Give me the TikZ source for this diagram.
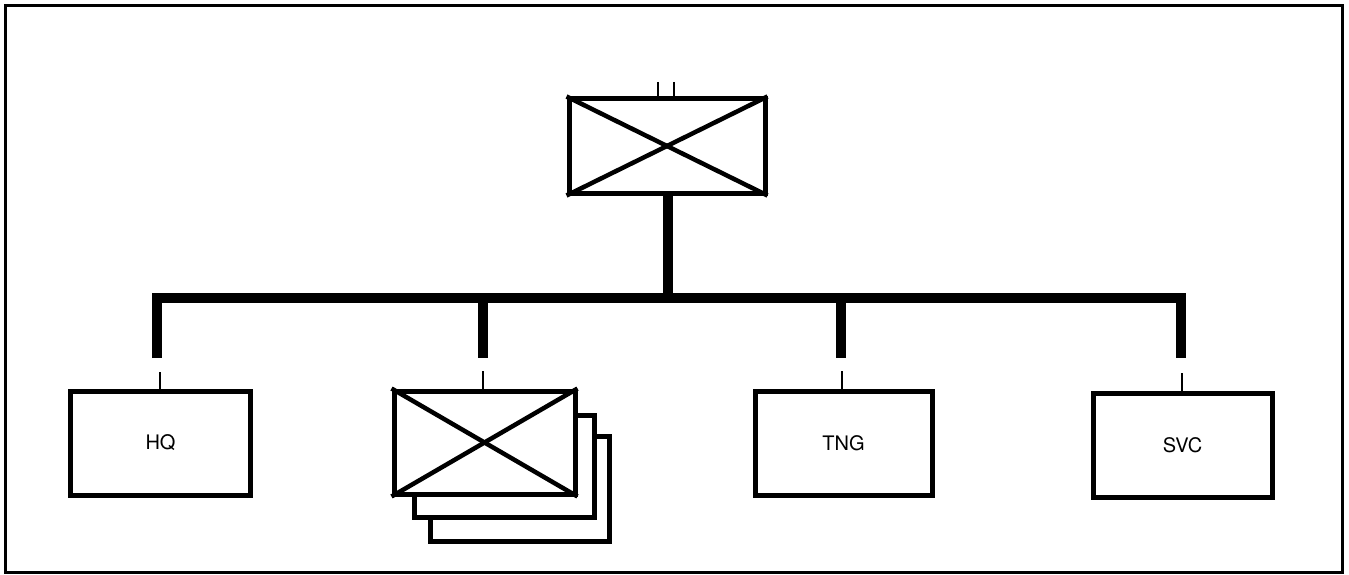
\documentclass[tikz,border=0pt]{standalone}
\usepackage{fontspec}
\setmainfont{TeX Gyre Heros}
\begin{document}
\begin{tikzpicture}[x=1pt,y=-1pt,
  box/.style={draw=black,line width=5pt,fill=white,minimum width=180pt,minimum height=104pt,inner sep=0pt,font=\fontsize{20}{24}\selectfont},
  cross/.style={line width=4.5pt},
  bus/.style={line width=10pt},
  stub/.style={line width=2.5pt},
  frame/.style={line width=3pt}]
\useasboundingbox (0,0) rectangle (1349,575);
\draw[frame] (5.5,5.5) rectangle (1342.5,572);
% top box
\node[box,minimum width=196pt,minimum height=94pt] (top) at (667,146) {};
\draw[cross] (top.north west) -- (top.south east);
\draw[cross] (top.south west) -- (top.north east);
\coordinate (ta) at (658,82);
\coordinate (tb) at (674,82);
\draw[stub] (ta) -- (ta |- top.north);
\draw[stub] (tb) -- (tb |- top.north);
% bus
\coordinate (bus) at (668,298);
\draw[bus] (top.south -| bus) -- (bus);
\coordinate (d1) at (157,358);
\coordinate (d2) at (483,358);
\coordinate (d3) at (841,358);
\coordinate (d4) at (1181,358);
\draw[bus] (d1) -- (d1 |- bus) -- (d4 |- bus) -- (d4);
\draw[bus] (d2 |- bus) -- (d2);
\draw[bus] (d3 |- bus) -- (d3);
% lower boxes
\node[box] (hq) at (160.5,443) {HQ};
\node[box,minimum width=179pt,minimum height=105pt] (back) at (519.5,488.5) {};
\node[box,minimum height=102pt] (mid) at (504,466) {};
\node[box,minimum width=181pt,minimum height=103pt] (grp) at (484.5,442.5) {};
\draw[cross] (grp.north west) -- (grp.south east);
\draw[cross] (grp.south west) -- (grp.north east);
\node[box,minimum width=177pt] (tng) at (843.5,443) {TNG};
\node[box,minimum width=179pt] (svc) at (1182.5,445) {SVC};
% stubs
\coordinate (s1) at (160,372);
\coordinate (s2) at (483,371);
\coordinate (s3) at (842,371);
\coordinate (s4) at (1182,373);
\draw[stub] (s1) -- (s1 |- hq.north);
\draw[stub] (s2) -- (s2 |- grp.north);
\draw[stub] (s3) -- (s3 |- tng.north);
\draw[stub] (s4) -- (s4 |- svc.north);
\end{tikzpicture}
\end{document}
